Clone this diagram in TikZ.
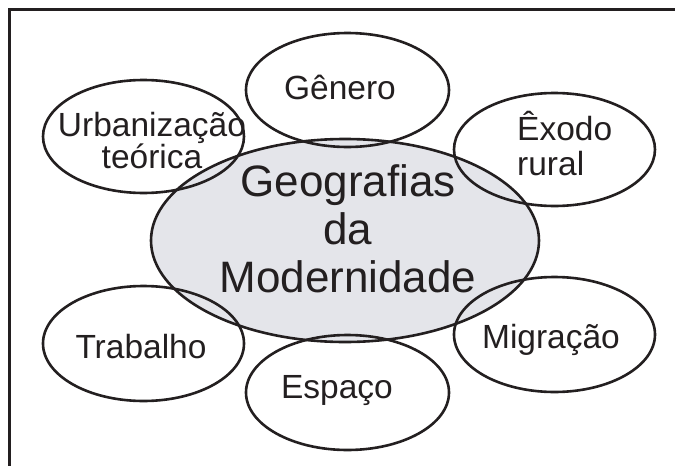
\documentclass[tikz,border=0pt]{standalone}
\usepackage{fontspec}
\setmainfont{Liberation Sans}
\usetikzlibrary{shapes.geometric}
\definecolor{ovalgray}{HTML}{E4E5EA}
\definecolor{inkdark}{HTML}{231F20}

\begin{document}
\begin{tikzpicture}[
  x=1pt, y=-1pt,
  oval/.style={ellipse, draw=inkdark, line width=2.6pt, inner sep=0pt, minimum width=201pt, minimum height=114pt},
  core/.style={oval, fill=ovalgray, minimum width=388pt, minimum height=203pt},
  lbl/.style={inner sep=0pt, text=inkdark, align=center, font=\fontsize{33.5}{35}\selectfont},
  biglbl/.style={lbl, font=\fontsize{44}{48}\selectfont}
]
\useasboundingbox (0,0) rectangle (675,466);

% Frame
\draw[line width=3pt, inkdark] (9.5,466) -- (9.5,9.5) -- (675,9.5);

% Central theme
\node[core] (geo) at (345,240.5) {};
\node[biglbl] (geotxt) at (348,229) {Geografias\\da\\Modernidade};

% Surrounding themes
\node[oval, minimum width=203pt] (gen) at (347.5,90) {};
\node[oval, minimum height=113pt] (urb) at (143.5,136.5) {};
\node[oval, minimum height=113pt] (exo) at (554.5,149.5) {};
\node[oval, minimum height=115pt] (trb) at (143.5,343.5) {};
\node[oval, minimum width=203pt, minimum height=115pt] (esp) at (347.5,392.5) {};
\node[oval, minimum height=115pt] (mig) at (554.5,334.5) {};

% Labels
\node[lbl, anchor=base] (gentxt) at (340,99) {Gênero};
\node[lbl, font=\fontsize{33.5}{31}\selectfont] (urbtxt) at (152,140.5) {Urbanização\\teórica};
\node[lbl, align=left, anchor=west] (exotxt) at (517,143.5) {Êxodo\\rural};
\node[lbl, anchor=base] (trbtxt) at (141,358) {Trabalho};
\node[lbl, anchor=base] (esptxt) at (337,398) {Espaço};
\node[lbl, anchor=base] (migtxt) at (551,348) {Migração};

\end{tikzpicture}
\end{document}
